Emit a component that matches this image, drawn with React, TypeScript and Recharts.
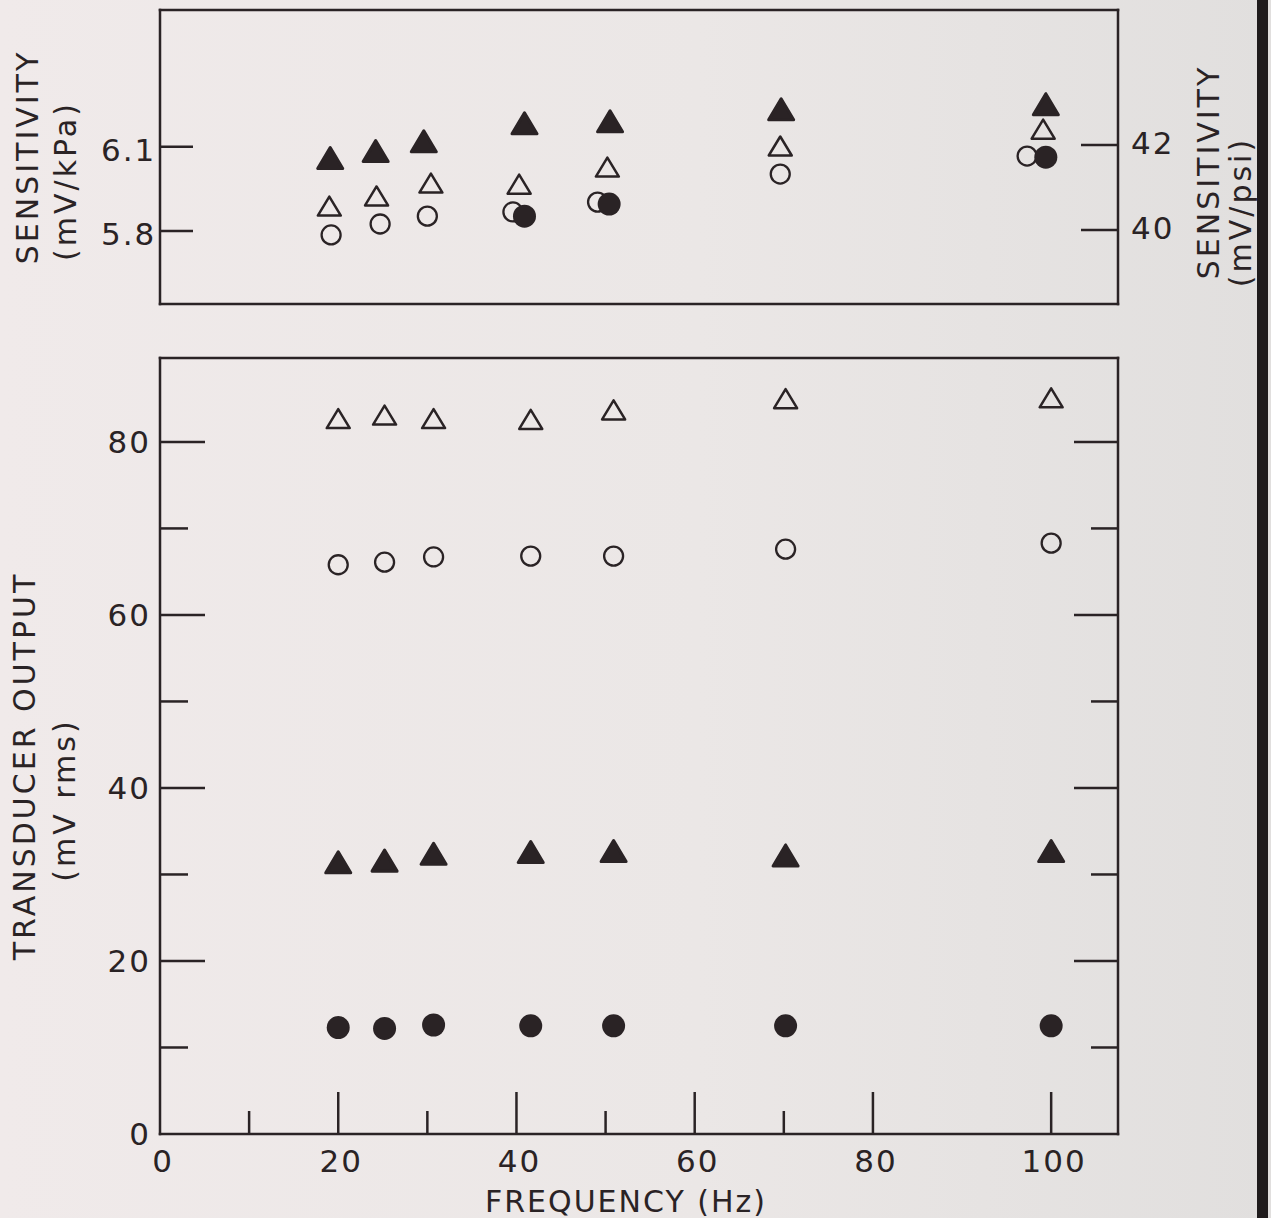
import { ScatterChart, Scatter, XAxis, YAxis } from 'recharts';

// lower panel: frequency (Hz) of each measurement column
const outputFreq = [20, 25.2, 30.7, 41.6, 50.9, 70.2, 100];
// transducer output (mV rms), one array per marker type
const outputOpenTriangle = [82.7, 83.1, 82.7, 82.6, 83.7, 85.0, 85.1];
const outputOpenCircle = [65.8, 66.1, 66.7, 66.8, 66.8, 67.6, 68.3];
const outputFilledTriangle = [31.4, 31.6, 32.4, 32.6, 32.7, 32.2, 32.7];
const outputFilledCircle = [12.3, 12.2, 12.6, 12.5, 12.5, 12.5, 12.5];

// upper panel: sensitivity (mV/kPa); overlapping markers are drawn slightly apart
const sensFilledTriangleFreq = [19.1, 24.2, 29.6, 40.9, 50.5, 69.7, 99.4];
const sensFilledTriangle = [6.06, 6.085, 6.12, 6.184, 6.191, 6.234, 6.252];
const sensOpenTriangleFreq = [19.0, 24.3, 30.4, 40.3, 50.2, 69.6, 99.1];
const sensOpenTriangle = [5.889, 5.925, 5.971, 5.967, 6.028, 6.103, 6.163];
const sensOpenCircleFreq = [19.2, 24.7, 30.0, 39.6, 49.1, 69.6, 97.3];
const sensOpenCircle = [5.786, 5.825, 5.853, 5.868, 5.903, 6.003, 6.067];
const sensFilledCircleFreq = [40.9, 50.4, 99.4];
const sensFilledCircle = [5.853, 5.896, 6.063];

// ticks
const freqTicks = [0, 10, 20, 30, 40, 50, 60, 70, 80, 100];
const freqLabels = [0, 20, 40, 60, 80, 100];
const topPanelFreqTicks = [10, 15, 18.7, 29.6, 40, 49.8, 70, 99.8];
const outputTicks = [0, 10, 20, 30, 40, 50, 60, 70, 80];
const outputLabels = [0, 20, 40, 60, 80];
const kpaTicks = [5.8, 6.1];
const psiTicks = [40, 42];

const INK = '#2a2325';
const FONT = '"DejaVu Sans", sans-serif';
const LABEL_STYLE = { fontFamily: FONT, fontSize: 31, fill: INK, letterSpacing: 2 };
const TITLE_STYLE = { fontFamily: FONT, fontSize: 30, fill: INK, letterSpacing: 3 };
const AXIS_LINE = { stroke: INK, strokeWidth: 2.5, strokeLinecap: 'square' as const };
const TICK_W = 2.5;
const TOP_TICK_LEN = [17, 39, 40, 35, 33, 23, 35, 29];

const toPoints = (fs: number[], vs: number[]) => vs.map((v, i) => ({ f: fs[i], v }));

function Tri({ cx, cy, filled }: { cx: number; cy: number; filled: boolean }) {
  const w = filled ? 25 : 23;
  const h = filled ? 21 : 19;
  const pts = `${cx},${cy - h / 2} ${cx - w / 2},${cy + h / 2} ${cx + w / 2},${cy + h / 2}`;
  return (
    <polygon
      points={pts}
      fill={filled ? INK : 'none'}
      stroke={INK}
      strokeWidth={filled ? 3 : 2.5}
      strokeLinejoin="round"
    />
  );
}

const openTriangle = (p: any) => <Tri cx={p.cx} cy={p.cy} filled={false} />;
const filledTriangle = (p: any) => <Tri cx={p.cx} cy={p.cy} filled />;
const openCircle = (p: any) => (
  <circle cx={p.cx} cy={p.cy} r={9.5} fill="none" stroke={INK} strokeWidth={2.3} />
);
const filledCircle = (p: any) => <circle cx={p.cx} cy={p.cy} r={11.5} fill={INK} />;

// vertical axis titles, each line centred on a given point
function vTitle(lines: [string, number, number][]) {
  return () => (
    <g>
      {lines.map(([text, cx, cy]) => (
        <text
          key={text}
          transform={`translate(${cx},${cy}) rotate(-90)`}
          y={11}
          textAnchor="middle"
          {...TITLE_STYLE}
        >
          {text}
        </text>
      ))}
    </g>
  );
}

function FreqTick(props: any) {
  const { x, y, payload } = props;
  const v = payload.value as number;
  return (
    <g>
      {v > 0 && (
        <line x1={x} y1={y} x2={x} y2={y - (v % 20 === 0 ? 42 : 23)} stroke={INK} strokeWidth={TICK_W} />
      )}
      {freqLabels.includes(v) && (
        <text x={x + 3} y={y + 38} textAnchor="middle" {...LABEL_STYLE}>
          {v}
        </text>
      )}
    </g>
  );
}

function TopFreqTick(props: any) {
  const { x, y, index } = props;
  return <line x1={x} y1={y} x2={x} y2={y + TOP_TICK_LEN[index]} stroke={INK} strokeWidth={TICK_W} />;
}

function OutputTick(props: any) {
  const { x, y, payload } = props;
  const v = payload.value as number;
  return (
    <g>
      {v > 0 && (
        <line x1={x} y1={y} x2={x + (v % 20 === 0 ? 45 : 28)} y2={y} stroke={INK} strokeWidth={TICK_W} />
      )}
      {outputLabels.includes(v) && (
        <text x={x - 9} y={y + 11} textAnchor="end" {...LABEL_STYLE}>
          {v}
        </text>
      )}
    </g>
  );
}

function OutputTickRight(props: any) {
  const { x, y, payload } = props;
  const v = payload.value as number;
  if (v <= 0) return <g />;
  return <line x1={x} y1={y} x2={x - (v % 20 === 0 ? 44 : 27)} y2={y} stroke={INK} strokeWidth={TICK_W} />;
}

function KpaTick(props: any) {
  const { x, y, payload } = props;
  return (
    <g>
      <line x1={x} y1={y} x2={x + 33} y2={y} stroke={INK} strokeWidth={TICK_W} />
      <text x={x - 59} y={y + 14} textAnchor="start" {...LABEL_STYLE}>
        {payload.value}
      </text>
    </g>
  );
}

function PsiTick(props: any) {
  const { x, y, payload } = props;
  return (
    <g>
      <line x1={x} y1={y} x2={x - 37} y2={y} stroke={INK} strokeWidth={TICK_W} />
      <text x={x + 13} y={y + 9} textAnchor="start" {...LABEL_STYLE}>
        {payload.value}
      </text>
    </g>
  );
}

const FREQ_DOMAIN: [number, number] = [0, 107.5];

export default function App() {
  return (
    <div
      style={{
        position: 'absolute',
        left: 0,
        top: 0,
        width: 1271,
        height: 1218,
        overflow: 'hidden',
        background: 'linear-gradient(90deg, #f0eaea 0%, #ebe7e6 55%, #e1dfde 100%)',
      }}
    >
      {/* upper panel: sensitivity */}
      <div style={{ position: 'absolute', left: 0, top: 0 }}>
        <ScatterChart width={1271} height={330} margin={{ top: 0, right: 0, bottom: 0, left: 0 }}>
          <XAxis
            xAxisId="f"
            dataKey="f"
            type="number"
            domain={FREQ_DOMAIN}
            allowDataOverflow
            height={26}
            tick={false}
            tickLine={false}
            axisLine={AXIS_LINE}
          />
          <XAxis
            xAxisId="top"
            type="number"
            orientation="top"
            domain={FREQ_DOMAIN}
            allowDataOverflow
            height={10}
            ticks={topPanelFreqTicks}
            interval={0}
            tickSize={0}
            tickMargin={0}
            tickLine={false}
            tick={TopFreqTick}
            axisLine={AXIS_LINE}
          />
          <YAxis
            yAxisId="kpa"
            dataKey="v"
            type="number"
            domain={[5.54, 6.5875]}
            allowDataOverflow
            width={160}
            ticks={kpaTicks}
            interval={0}
            tickSize={0}
            tickMargin={0}
            tickLine={false}
            tick={KpaTick}
            axisLine={AXIS_LINE}
            label={vTitle([
              ['SENSITIVITY', 27, 157],
              ['(mV/kPa)', 65, 181],
            ])}
          />
          <YAxis
            yAxisId="psi"
            orientation="right"
            type="number"
            domain={[38.26, 45.18]}
            allowDataOverflow
            width={153}
            ticks={psiTicks}
            interval={0}
            tickSize={0}
            tickMargin={0}
            tickLine={false}
            tick={PsiTick}
            axisLine={AXIS_LINE}
            label={vTitle([
              ['SENSITIVITY', 1208, 172],
              ['(mV/psi)', 1240, 212],
            ])}
          />
          <Scatter
            xAxisId="f"
            yAxisId="kpa"
            data={toPoints(sensOpenCircleFreq, sensOpenCircle)}
            shape={openCircle}
            isAnimationActive={false}
          />
          <Scatter
            xAxisId="f"
            yAxisId="kpa"
            data={toPoints(sensFilledCircleFreq, sensFilledCircle)}
            shape={filledCircle}
            isAnimationActive={false}
          />
          <Scatter
            xAxisId="f"
            yAxisId="kpa"
            data={toPoints(sensOpenTriangleFreq, sensOpenTriangle)}
            shape={openTriangle}
            isAnimationActive={false}
          />
          <Scatter
            xAxisId="f"
            yAxisId="kpa"
            data={toPoints(sensFilledTriangleFreq, sensFilledTriangle)}
            shape={filledTriangle}
            isAnimationActive={false}
          />
        </ScatterChart>
      </div>

      {/* lower panel: transducer output */}
      <div style={{ position: 'absolute', left: 0, top: 330 }}>
        <ScatterChart width={1271} height={888} margin={{ top: 0, right: 0, bottom: 0, left: 0 }}>
          <XAxis
            xAxisId="f"
            dataKey="f"
            type="number"
            domain={FREQ_DOMAIN}
            allowDataOverflow
            height={84}
            ticks={freqTicks}
            interval={0}
            tickSize={0}
            tickMargin={0}
            tickLine={false}
            tick={FreqTick}
            axisLine={AXIS_LINE}
            label={() => (
              <text x={626} y={882} textAnchor="middle" {...TITLE_STYLE} letterSpacing={2}>
                FREQUENCY (Hz)
              </text>
            )}
          />
          <XAxis
            xAxisId="top"
            type="number"
            orientation="top"
            domain={FREQ_DOMAIN}
            allowDataOverflow
            height={28}
            tick={false}
            tickLine={false}
            axisLine={AXIS_LINE}
          />
          <YAxis
            yAxisId="out"
            dataKey="v"
            type="number"
            domain={[0, 89.7]}
            allowDataOverflow
            width={160}
            ticks={outputTicks}
            interval={0}
            tickSize={0}
            tickMargin={0}
            tickLine={false}
            tick={OutputTick}
            axisLine={AXIS_LINE}
            label={vTitle([
              ['TRANSDUCER OUTPUT', 24, 436],
              ['(mV rms)', 64, 470],
            ])}
          />
          <YAxis
            yAxisId="outRight"
            orientation="right"
            type="number"
            domain={[0, 89.7]}
            allowDataOverflow
            width={153}
            ticks={outputTicks}
            interval={0}
            tickSize={0}
            tickMargin={0}
            tickLine={false}
            tick={OutputTickRight}
            axisLine={AXIS_LINE}
          />
          <Scatter
            xAxisId="f"
            yAxisId="out"
            data={toPoints(outputFreq, outputOpenTriangle)}
            shape={openTriangle}
            isAnimationActive={false}
          />
          <Scatter
            xAxisId="f"
            yAxisId="out"
            data={toPoints(outputFreq, outputOpenCircle)}
            shape={openCircle}
            isAnimationActive={false}
          />
          <Scatter
            xAxisId="f"
            yAxisId="out"
            data={toPoints(outputFreq, outputFilledTriangle)}
            shape={filledTriangle}
            isAnimationActive={false}
          />
          <Scatter
            xAxisId="f"
            yAxisId="out"
            data={toPoints(outputFreq, outputFilledCircle)}
            shape={filledCircle}
            isAnimationActive={false}
          />
        </ScatterChart>
      </div>

      {/* dark page edge from the scan */}
      <div
        style={{ position: 'absolute', left: 1257, top: 0, width: 11, height: 1218, background: '#1f1b1c' }}
      />
    </div>
  );
}
